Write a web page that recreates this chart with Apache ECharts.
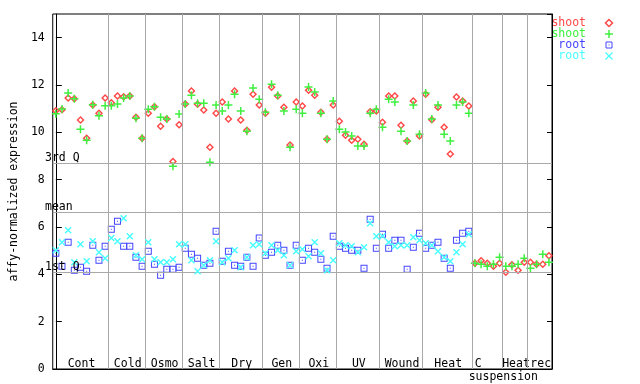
<!DOCTYPE html>
<html><head><meta charset="utf-8">
<script src="https://cdn.jsdelivr.net/npm/echarts@6/dist/echarts.min.js"></script>
<style>html,body{margin:0;padding:0;background:#fff}#c{width:640px;height:384px}</style>
</head><body><div id="c"></div>
<script>
const groups = ['Cont','Cold','Osmo','Salt','Dry','Gen','Oxi','UV','Wound','Heat','C suspension','Heat','rec'];
const groupSizes = [9,6,6,6,7,6,6,7,7,8,5,4,4];
const shoot1 = [10.91,10.95,11.45,11.42,10.52,9.75,11.16,10.81,11.45,
  11.25,11.54,11.50,11.54,10.64,9.75,
  10.81,11.08,10.26,10.56,8.77,10.32,
  11.20,11.75,11.19,10.94,9.37,10.81,
  11.28,10.56,11.75,10.52,10.09,11.61,11.15,
  10.81,11.91,11.53,11.06,9.46,11.28,
  11.11,11.78,11.57,10.85,9.71,11.15,
  10.47,9.88,9.67,9.71,9.50,10.87,10.90,
  10.43,11.54,11.53,10.30,9.63,11.32,9.84,
  11.61,10.53,11.06,10.22,9.08,11.49,11.32,11.11,
  4.47,4.57,4.47,4.34,4.47,
  4.09,4.40,4.17,4.51,
  4.51,4.43,4.43,4.78];
const shoot2 = [10.78,10.99,11.66,11.42,10.13,9.67,11.17,10.70,11.12,
  11.12,11.20,11.45,11.54,10.60,9.75,
  10.98,11.08,10.64,10.56,8.57,10.77,
  11.20,11.57,11.23,11.23,8.74,11.15,
  10.90,11.15,11.61,10.90,10.05,11.87,11.40,
  10.85,12.03,11.57,10.90,9.37,10.98,
  10.81,11.92,11.70,10.81,9.71,11.32,
  10.13,10.01,9.84,9.42,9.42,10.81,10.98,
  10.22,11.40,11.28,10.05,9.63,11.15,9.92,
  11.66,10.56,11.15,9.92,9.63,11.15,11.28,10.81,
  4.47,4.43,4.34,4.43,4.72,
  4.34,4.34,4.43,4.68,
  4.26,4.43,4.85,4.51];
const root1 = [4.89,4.34,5.36,4.17,4.30,4.13,5.23,4.60,5.19,
  5.91,6.24,5.19,5.19,4.72,4.34,
  4.98,4.43,3.96,4.22,4.22,4.30,
  5.10,4.85,4.68,4.38,4.47,5.82,
  4.55,4.98,4.38,4.34,4.72,4.34,5.53,
  4.81,4.93,5.23,5.02,4.38,5.23,
  4.60,5.10,4.93,4.64,4.26,5.61,
  5.19,5.10,5.02,5.02,4.26,6.33,5.10,
  5.69,5.10,5.44,5.44,4.22,5.14,5.74,
  5.10,5.23,5.36,4.68,4.26,5.44,5.74,5.82,
  null,null,null,null,null,null,null,null,null,null,null,null,null];
const root2 = [5.02,5.36,5.86,4.51,5.27,4.55,5.40,4.93,4.68,
  5.53,5.40,6.37,5.61,4.81,4.64,
  5.36,4.64,4.51,4.51,4.64,5.27,
  5.27,4.60,4.13,4.38,4.60,5.40,
  4.51,4.68,5.02,4.30,4.72,5.23,5.27,
  4.89,5.23,5.02,4.81,4.38,4.98,
  5.06,4.76,5.36,4.89,4.17,4.60,
  5.31,5.23,5.19,4.93,5.14,6.16,5.61,
  5.61,5.36,5.19,5.23,5.23,5.57,5.44,
  5.31,5.23,4.98,4.72,4.55,4.93,5.27,5.69,
  null,null,null,null,null,null,null,null,null,null,null,null,null];
const refLabels = ['3rd Q','mean','1st Q'];
const refValues = [8.70,6.63,4.09];
const seriesNames = ['shoot','shoot','root','root'];
const yTicks = [0,2,4,6,8,10,12,14];

const FONT = '"DejaVu Sans Mono", monospace';
const FS = '11.5px ' + FONT;
const colors = ['#ff4848','#40f040','#4444ff','#48ffff'];
const symbols = [
  'path://M4,0L8,4L4,8L0,4ZM4,2L2,4L4,6L6,4Z',
  'path://M3.25,0h1.5v8h-1.5zM0,3.25h8v1.5h-8z',
  'path://M0,0h7v7h-7zM1,1v5h5v-5zM3,3h1v1h-1z',
  'path://M0,1L1,0L7,6L6,7ZM6,0L7,1L1,7L0,6Z'
];
const sizes = [8,8,7,7];
const series = [shoot1, shoot2, root1, root2];
const N = shoot1.length;

const boundaries = [];
let acc = 0;
groupSizes.forEach((s,i)=>{ acc += s; if (i < groupSizes.length-1) boundaries.push(acc-0.5); });

const chart = echarts.init(document.getElementById('c'), null, {renderer:'canvas'});
const opt = {
  animation:false,
  backgroundColor:'#fff',
  grid:{left:44, right:88, top:14, bottom:15, show:true, borderColor:'#000', borderWidth:1, backgroundColor:'transparent'},
  xAxis:{type:'value', min:-0.5, max:N-0.5, axisLabel:{show:false}, axisTick:{show:false}, splitLine:{show:false},
    axisLine:{lineStyle:{color:'#000'}}},
  yAxis:[
    {type:'value', min:0, max:15, interval:2, name:'affy-normalized expression', nameLocation:'middle', nameGap:32,
     nameTextStyle:{fontFamily:FONT, fontSize:11.5, color:'#000'},
     axisLine:{show:true, lineStyle:{color:'#000'}}, axisTick:{show:true, inside:true, length:6, lineStyle:{color:'#000'}},
     axisLabel:{fontFamily:FONT, fontSize:11.5, color:'#000', margin:8, showMaxLabel:false,
       formatter:v=> yTicks.indexOf(v)>=0 ? String(v) : ''},
     splitLine:{show:false}},
    {type:'value', min:0, max:15, interval:2, position:'right',
     axisLine:{show:true, lineStyle:{color:'#000'}}, axisTick:{show:true, inside:true, length:5, lineStyle:{color:'#000'}},
     axisLabel:{show:false}, splitLine:{show:false}}
  ],
  series: series.map((arr,k)=>{
    const s = {
      type:'scatter', name:seriesNames[k], symbol:symbols[k], symbolSize:sizes[k],
      itemStyle:{color:colors[k], opacity:1}, silent:true, z:2+k,
      data: arr.map((v,i)=> v==null ? null : [i,v]).filter(d=>d)
    };
    if (k===0) {
      s.markLine = {silent:true, symbol:'none', animation:false,
        lineStyle:{color:'#a8a8a8', width:1, type:'solid'}, label:{show:false},
        data: boundaries.map(b=>({xAxis:b}))};
    }
    if (k===1) {
      s.markLine = {silent:true, symbol:'none', animation:false,
        lineStyle:{color:'#a8a8a8', width:1, type:'solid'}, label:{show:false},
        data: refValues.map((v,i)=>({yAxis:v, name:refLabels[i]}))};
    }
    return s;
  })
};
chart.setOption(opt);

const graphics = [];
// reference line labels
refValues.forEach((v,i)=>{
  const y = chart.convertToPixel({yAxisIndex:0}, v);
  graphics.push({type:'text', x:45, y:y-5, z:10, style:{text:refLabels[i], font:FS, fill:'#000', align:'left', verticalAlign:'middle'}});
});
// group labels
let start = 0;
groupSizes.forEach((s,i)=>{
  const center = start + (s-1)/2;
  start += s;
  const x = chart.convertToPixel({xAxisIndex:0}, center);
  const name = groups[i];
  if (name.indexOf(' ')>0) {
    const parts = name.split(' ');
    graphics.push({type:'text', x:x-9, y:364, style:{text:parts[0], font:FS, fill:'#000', align:'center', verticalAlign:'middle'}});
    graphics.push({type:'text', x:x+16, y:377, style:{text:parts[1], font:FS, fill:'#000', align:'center', verticalAlign:'middle'}});
  } else {
    graphics.push({type:'text', x:x+1, y:364, style:{text:name, font:FS, fill:'#000', align:'center', verticalAlign:'middle'}});
  }
});
// legend
const mx = 609;
seriesNames.forEach((n,k)=>{
  const y = 23 + k*11;
  graphics.push({type:'text', x:586, y:y, style:{text:n, font:FS, fill:colors[k], align:'right', verticalAlign:'middle'}});
  const c = colors[k];
  if (k===0) {
    graphics.push({type:'polygon', shape:{points:[[mx,y-3.5],[mx+3.5,y],[mx,y+3.5],[mx-3.5,y]]}, style:{fill:'none', stroke:c, lineWidth:1.5}});
  } else if (k===1) {
    graphics.push({type:'rect', shape:{x:mx-4, y:y-0.75, width:8, height:1.5}, style:{fill:c}});
    graphics.push({type:'rect', shape:{x:mx-0.75, y:y-4, width:1.5, height:8}, style:{fill:c}});
  } else if (k===2) {
    graphics.push({type:'rect', shape:{x:mx-3, y:y-3, width:6, height:6}, style:{fill:'none', stroke:c, lineWidth:1}});
    graphics.push({type:'rect', shape:{x:mx-0.5, y:y-0.5, width:1, height:1}, style:{fill:c}});
  } else {
    graphics.push({type:'line', shape:{x1:mx-3.5, y1:y-3.5, x2:mx+3.5, y2:y+3.5}, style:{stroke:c, lineWidth:1.2}});
    graphics.push({type:'line', shape:{x1:mx+3.5, y1:y-3.5, x2:mx-3.5, y2:y+3.5}, style:{stroke:c, lineWidth:1.2}});
  }
});
chart.setOption({graphic:graphics});
</script></body></html>
